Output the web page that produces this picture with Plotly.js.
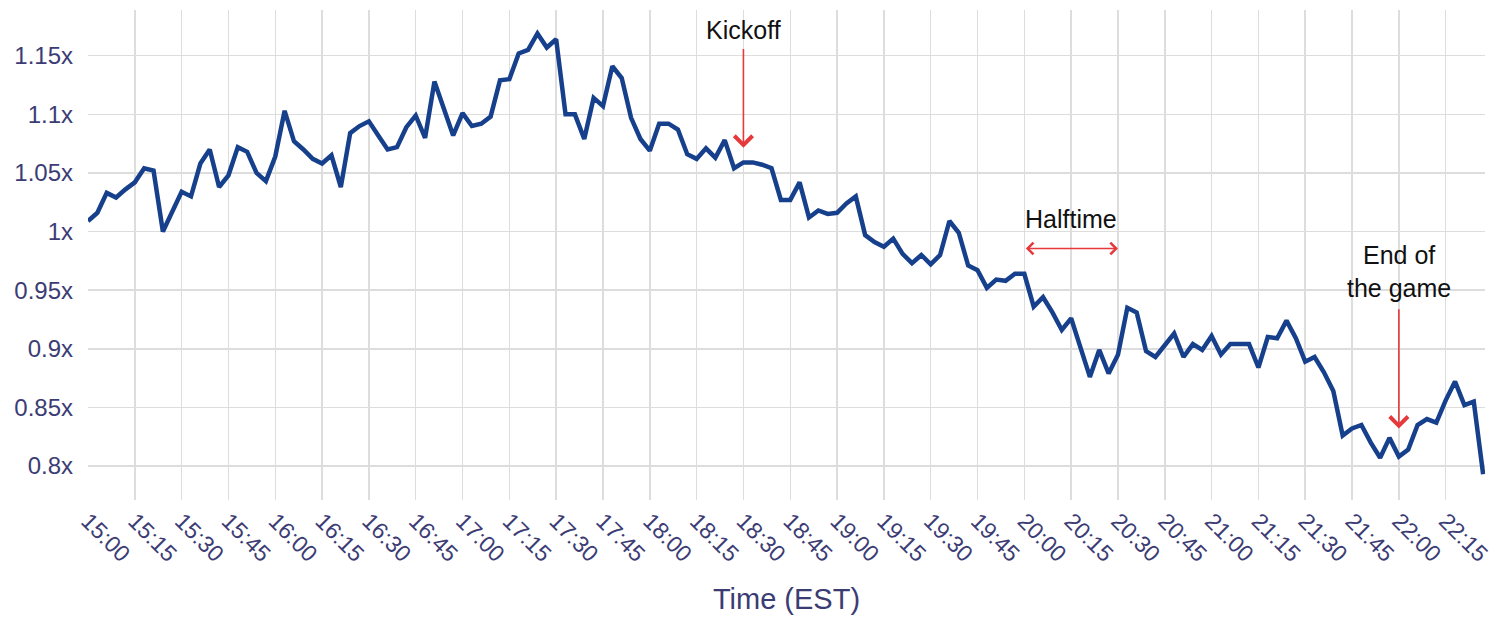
<!DOCTYPE html>
<html>
<head>
<meta charset="utf-8">
<script src="https://cdn.plot.ly/plotly-3.0.1.min.js"></script>
<style>html,body{margin:0;padding:0;background:#fff;}#chart{width:1495px;height:619px;}</style>
</head>
<body>
<div id="chart"></div>
<script>
const day = '2024-01-01 ';
const times = [
'15:00','15:03','15:06','15:09','15:12','15:15','15:18','15:21','15:24','15:27',
'15:30','15:33','15:36','15:39','15:42','15:45','15:48','15:51','15:54','15:57',
'16:00','16:03','16:06','16:09','16:12','16:15','16:18','16:21','16:24','16:27',
'16:30','16:33','16:36','16:39','16:42','16:45','16:48','16:51','16:54','16:57',
'17:00','17:03','17:06','17:09','17:12','17:15','17:18','17:21','17:24','17:27',
'17:30','17:33','17:36','17:39','17:42','17:45','17:48','17:51','17:54','17:57',
'18:00','18:03','18:06','18:09','18:12','18:15','18:18','18:21','18:24','18:27',
'18:30','18:33','18:36','18:39','18:42','18:45','18:48','18:51','18:54','18:57',
'19:00','19:03','19:06','19:09','19:12','19:15','19:18','19:21','19:24','19:27',
'19:30','19:33','19:36','19:39','19:42','19:45','19:48','19:51','19:54','19:57',
'20:00','20:03','20:06','20:09','20:12','20:15','20:18','20:21','20:24','20:27',
'20:30','20:33','20:36','20:39','20:42','20:45','20:48','20:51','20:54','20:57',
'21:00','21:03','21:06','21:09','21:12','21:15','21:18','21:21','21:24','21:27',
'21:30','21:33','21:36','21:39','21:42','21:45','21:48','21:51','21:54','21:57',
'22:00','22:03','22:06','22:09','22:12','22:15','22:18','22:21','22:24','22:27'
];
const multiplier = [
1.009,1.016,1.033,1.029,1.036,1.042,1.054,1.052,1.000,1.018,
1.034,1.030,1.058,1.070,1.038,1.048,1.072,1.068,1.050,1.043,
1.064,1.103,1.077,1.070,1.062,1.058,1.065,1.038,1.084,1.090,
1.094,1.082,1.070,1.072,1.089,1.099,1.080,1.128,1.104,1.082,
1.101,1.090,1.092,1.098,1.129,1.130,1.152,1.155,1.169,1.157,
1.164,1.100,1.100,1.079,1.114,1.107,1.141,1.131,1.097,1.079,
1.069,1.092,1.092,1.087,1.066,1.062,1.071,1.063,1.078,1.054,
1.059,1.059,1.057,1.054,1.027,1.027,1.042,1.012,1.018,1.015,
1.016,1.024,1.030,0.997,0.991,0.987,0.994,0.981,0.973,0.980,
0.972,0.980,1.009,0.999,0.971,0.967,0.952,0.959,0.958,0.964,
0.964,0.936,0.944,0.931,0.916,0.926,0.901,0.876,0.899,0.879,
0.895,0.935,0.931,0.898,0.893,0.903,0.913,0.893,0.904,0.899,
0.911,0.895,0.904,0.904,0.904,0.884,0.910,0.909,0.924,0.909,
0.889,0.893,0.880,0.864,0.826,0.832,0.835,0.820,0.807,0.824,
0.808,0.814,0.835,0.840,0.837,0.856,0.872,0.852,0.855,0.793
];
const yTickVals = [0.8,0.85,0.9,0.95,1,1.05,1.1,1.15];
const yTickText = ['0.8x','0.85x','0.9x','0.95x','1x','1.05x','1.1x','1.15x'];

const xRange = [day+'15:00:00', day+'22:27:36'];
const yRange = [0.771, 1.189];

const events = {
  kickoff: {time:'18:30', head:1.0715, tail:1.157, label:'Kickoff', labelY:1.172},
  halftime: {start:'20:00', end:'20:30', y:0.9855, label:'Halftime', labelX:'20:15', labelY:1.011},
  endGame: {time:'22:00', head:0.832, tail:0.935, label:'End of<br>the game', labelY:0.966}
};

const tickColor = '#3c3c74';
const arrowColor = '#e5393b';
const fontFam = '"Liberation Sans", Arial, Helvetica, sans-serif';

const trace = {
  x: times.map(t => day + t),
  y: multiplier,
  type: 'scatter',
  mode: 'lines',
  line: {color: '#17408c', width: 4.5},
  hoverinfo: 'skip'
};

const annText = {showarrow:false, font:{family:fontFam, size:25, color:'#111'}, xref:'x', yref:'y'};
const annArrow = {text:'', showarrow:true, xref:'x', yref:'y', axref:'x', ayref:'y',
  arrowcolor: arrowColor, arrowwidth: 1.6, arrowhead: 4, arrowsize: 2.2, standoff: 0, startstandoff: 0};

const annotations = [
  Object.assign({}, annText, {x: day+events.kickoff.time, y: events.kickoff.labelY, text: events.kickoff.label}),
  Object.assign({}, annArrow, {x: day+events.kickoff.time, y: events.kickoff.head, ax: day+events.kickoff.time, ay: events.kickoff.tail}),
  Object.assign({}, annText, {x: day+events.halftime.labelX, y: events.halftime.labelY, text: events.halftime.label}),
  Object.assign({}, annArrow, {x: day+events.halftime.end, y: events.halftime.y, ax: day+events.halftime.start, ay: events.halftime.y,
    arrowside:'end+start', arrowsize: 1.5, arrowwidth: 1.5}),
  Object.assign({}, annText, {x: day+events.endGame.time, y: events.endGame.labelY, text: events.endGame.label}),
  Object.assign({}, annArrow, {x: day+events.endGame.time, y: events.endGame.head, ax: day+events.endGame.time, ay: events.endGame.tail})
];

const layout = {
  width: 1495, height: 619,
  margin: {l: 88, r: 10, t: 10, b: 119},
  paper_bgcolor: '#fff', plot_bgcolor: '#fff',
  showlegend: false,
  font: {family: fontFam, color: tickColor},
  xaxis: {
    type: 'date', range: xRange,
    tick0: day+'15:00:00', dtick: 15*60*1000, tickformat: '%H:%M',
    tickangle: 45, tickfont: {size: 23, color: tickColor},
    ticklabeloverflow: 'allow',
    showgrid: true, gridcolor: '#dddddd', gridwidth: 1.5,
    zeroline: false, showline: false, ticks: '', ticklabelstandoff: 2,
    title: {text: 'Time (EST)', font: {size: 29, color: tickColor}, standoff: 22}
  },
  yaxis: {
    range: yRange, tickvals: yTickVals, ticktext: yTickText,
    tickfont: {size: 24, color: tickColor},
    showgrid: true, gridcolor: '#dddddd', gridwidth: 1.5,
    zeroline: false, showline: false, ticks: '', ticklabelstandoff: 14
  },
  annotations: annotations
};

Plotly.newPlot('chart', [trace], layout, {displayModeBar: false, staticPlot: true});
</script>
</body>
</html>
